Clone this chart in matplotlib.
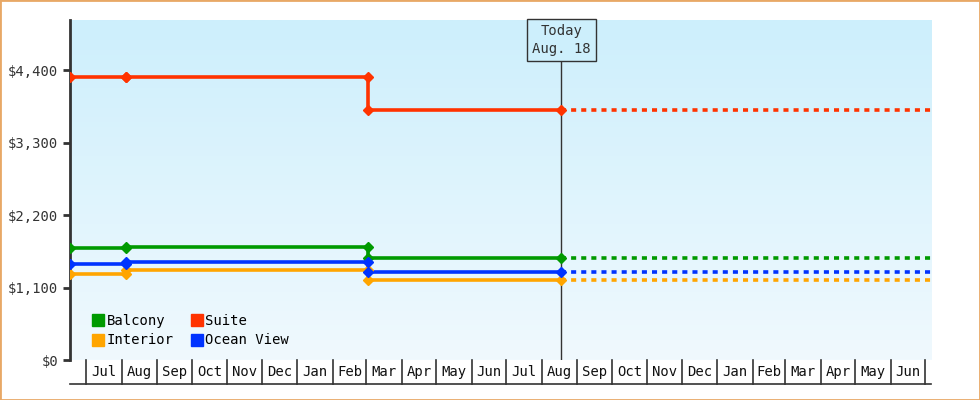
import matplotlib
matplotlib.use("Agg")
import matplotlib.pyplot as plt
import matplotlib.dates as mdates
import matplotlib.transforms as mtrans
from matplotlib.patches import Rectangle
from matplotlib.colors import LinearSegmentedColormap
import numpy as np
from datetime import date

plt.rcParams['font.family'] = ['DejaVu Sans Mono']

series = ["Balcony", "Suite", "Interior", "Ocean View"]
colors = {"Balcony": "#009a00", "Suite": "#ff3300", "Interior": "#ffa500", "Ocean View": "#0033ff"}
change_dates = [date(2023, 6, 17), date(2023, 8, 5), date(2024, 3, 3)]
today = date(2024, 8, 18)
end_date = date(2025, 7, 6)
prices = {
    "Balcony":    [1700, 1715, 1548],
    "Suite":      [4290, 4300, 3800],
    "Interior":   [1305, 1365, 1214],
    "Ocean View": [1457, 1487, 1335],
}
yticks = [0, 1100, 2200, 3300, 4400]
ytick_labels = ["$0", "$1,100", "$2,200", "$3,300", "$4,400"]
months = [date(2023 + (6 + i) // 12, (6 + i) % 12 + 1, 1) for i in range(25)]

fig = plt.figure(figsize=(9.8, 4), dpi=100)
fig.patches.append(Rectangle((0, 0), 1, 1, transform=fig.transFigure, fill=False,
                             edgecolor="#e8a866", linewidth=2))
ax = fig.add_axes([70/980, 40/400, 861/980, 340/400])
ax.set_xlim(mdates.date2num(change_dates[0]), mdates.date2num(end_date))
ax.set_ylim(0, 5160)

grad = np.linspace(0, 1, 256).reshape(-1, 1)
cm = LinearSegmentedColormap.from_list("g", ["#f0f9fe", "#cdeffc"])
ax.imshow(grad, cmap=cm, origin="lower", aspect="auto", extent=[0, 1, 0, 1],
          transform=ax.transAxes, zorder=0)

for s in series:
    v = prices[s]
    xs = [mdates.date2num(d) for d in change_dates] + [mdates.date2num(today)]
    ys = v + [v[-1]]
    ax.step(xs, ys, where="post", color=colors[s], lw=2.6, zorder=3)
    mx = [xs[0], xs[1], xs[1], xs[2], xs[2], xs[3]]
    my = [v[0], v[0], v[1], v[1], v[2], v[2]]
    ax.plot(mx, my, "D", color=colors[s], ms=5.5, zorder=4)
    ax.plot([xs[3], mdates.date2num(end_date)], [v[-1], v[-1]], color=colors[s],
            lw=2.6, ls=(0, (1.4, 1.4)), zorder=3)

tx = mdates.date2num(today)
ax.axvline(tx, color="#333333", lw=1, zorder=2)
ax.text(tx, 4857, "Today\nAug. 18", ha="center", va="center", fontsize=10, color="#333333",
        linespacing=1.4, zorder=5,
        bbox=dict(boxstyle="square,pad=0.35", fc="#cdeffc", ec="#333333", lw=1))

for sp in ["top", "right", "bottom"]:
    ax.spines[sp].set_visible(False)
ax.spines["left"].set_color("#333333")
ax.spines["left"].set_linewidth(2)
ax.set_yticks(yticks)
ax.set_yticklabels(ytick_labels, fontsize=10, color="#333333")
ax.tick_params(axis="y", length=5, width=2, color="#333333")
ax.set_xticks([])

trans = mtrans.blended_transform_factory(ax.transData, ax.transAxes)
h = -24/340
ax.plot([0, 1], [h, h], transform=ax.transAxes, color="#333333", lw=1.2, clip_on=False)
for i, m in enumerate(months):
    x = mdates.date2num(m)
    ax.plot([x, x], [0, h], transform=trans, color="#333333", lw=1.2, clip_on=False)
    if i < len(months) - 1:
        xc = (x + mdates.date2num(months[i + 1])) / 2
        ax.text(xc, h/2, m.strftime("%b"), transform=trans, ha="center", va="center",
                fontsize=10, color="#111111")

order = ["Balcony", "Interior", "Suite", "Ocean View"]
handles = [plt.Line2D([], [], marker="s", ls="", color=colors[s], ms=9) for s in order]
ax.legend(handles, order, loc="lower left", bbox_to_anchor=(0.01, 0.0), ncol=2,
          frameon=False, fontsize=10, handletextpad=0.1, columnspacing=1.2,
          labelspacing=0.4, handlelength=1)

fig.savefig("out.png", dpi=100)
